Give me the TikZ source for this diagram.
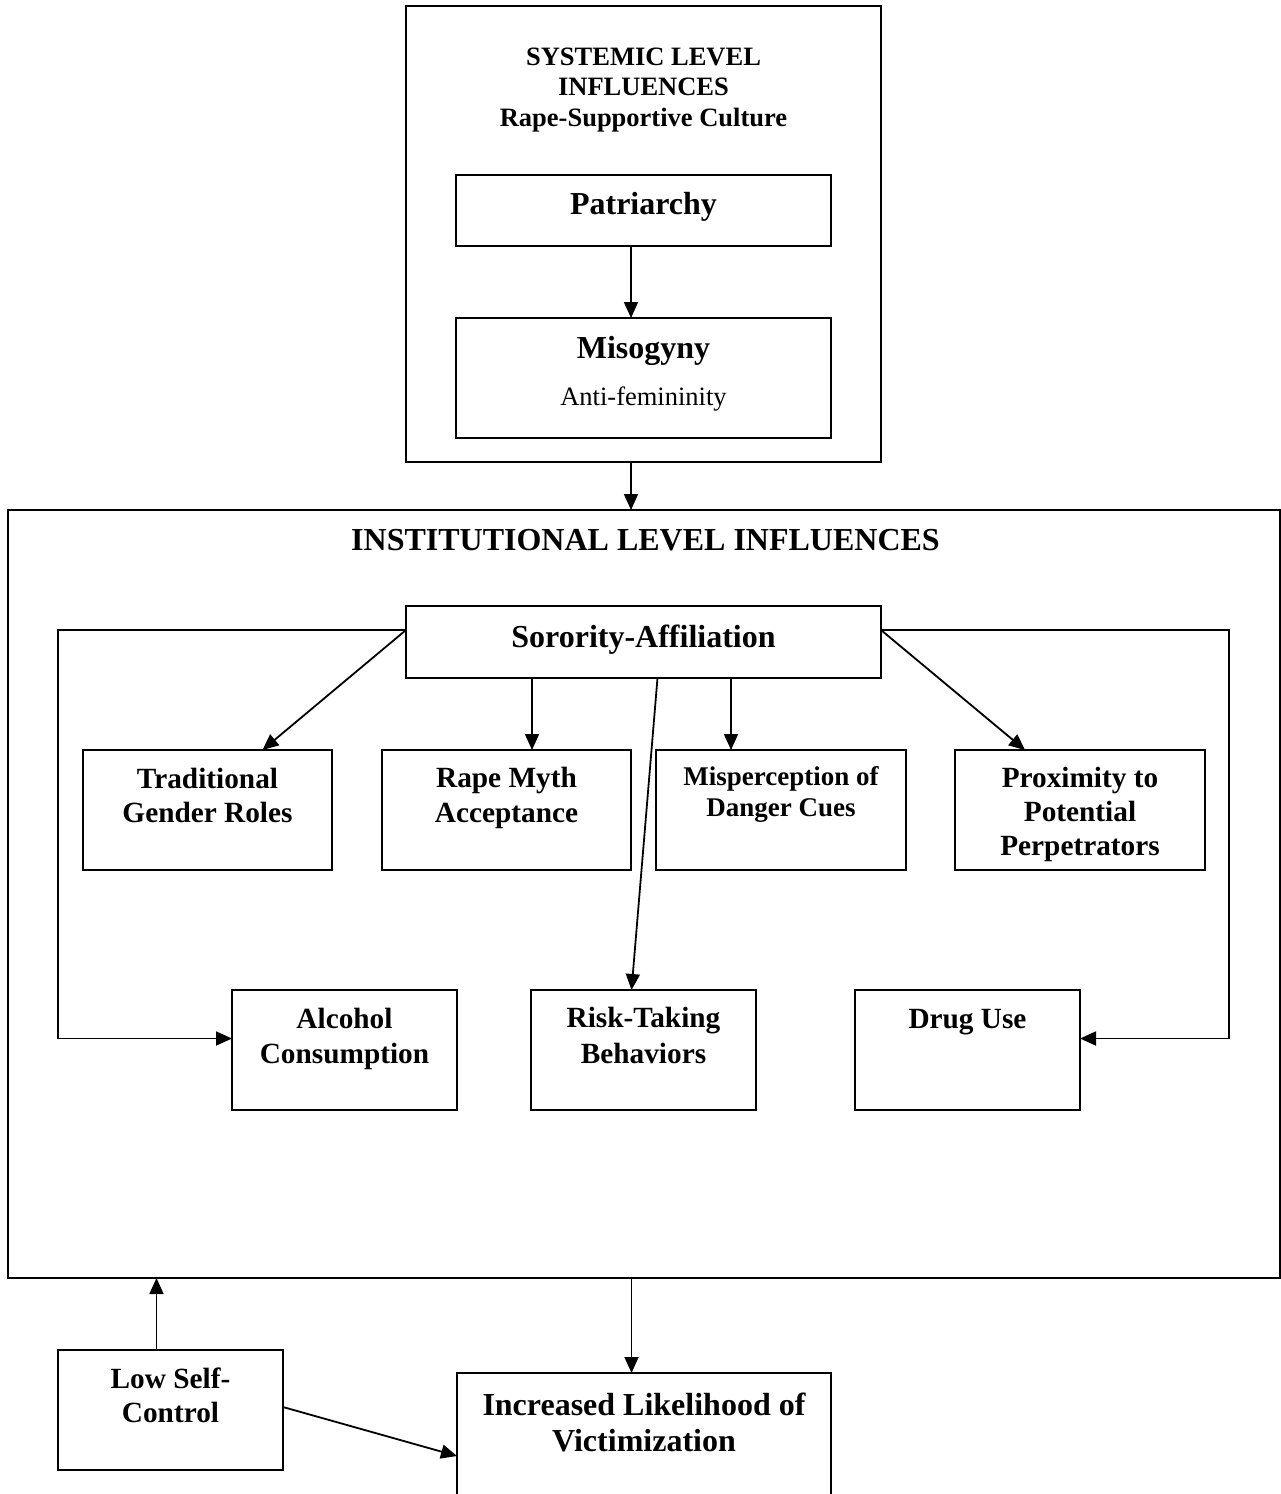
\documentclass[tikz,border=0pt]{standalone}
\usepackage{fontspec}
\setmainfont{Liberation Serif}
\usetikzlibrary{arrows.meta,calc}
\begin{document}
\begin{tikzpicture}[x=1pt,y=-1pt,
  box/.style={draw,line width=2.2pt,inner sep=0pt,outer sep=0pt},
  arr/.style={line width=1.8pt,-{Triangle[length=16pt,width=14pt]}},
  txt/.style={anchor=base,inner sep=0pt},
  big/.style={txt,font=\fontsize{32}{38}\selectfont\bfseries},
  ttl/.style={txt,font=\fontsize{26.5}{31}\selectfont\bfseries},
  sub/.style={txt,font=\fontsize{26.5}{31}\selectfont},
  mid/.style={txt,font=\fontsize{29.3}{35}\selectfont\bfseries},
  sml/.style={txt,font=\fontsize{27}{32}\selectfont\bfseries}]
\fill[white] (0,0) rectangle (1281,1494);
\useasboundingbox (0,0) rectangle (1281,1494);

% systemic level
\node[box,minimum width=475pt,minimum height=456pt] (sys) at (643.5,234) {};
\node[ttl] (sys1) at (sys.center |- 0,65) {SYSTEMIC LEVEL};
\node[ttl] (sys2) at (sys.center |- 0,95) {INFLUENCES};
\node[ttl] (sys3) at (sys.center |- 0,126) {Rape-Supportive Culture};
\node[box,minimum width=375pt,minimum height=71pt] (pat) at (643.5,210.5) {};
\node[big] (patT) at (pat.center |- 0,214) {Patriarchy};
\node[box,minimum width=375pt,minimum height=120pt] (mis) at (643.5,378) {};
\node[big] (misT) at (mis.center |- 0,358) {Misogyny};
\node[sub] (misS) at (mis.center |- 0,405) {Anti-femininity};

% institutional level
\node[box,minimum width=1272pt,minimum height=768pt] (inst) at (644,894) {};
\node[big] (instT) at (645.5,550) {INSTITUTIONAL LEVEL INFLUENCES};
\node[box,minimum width=475pt,minimum height=72pt] (sor) at (643.5,642) {};
\node[big] (sorT) at (sor.center |- 0,647.5) {Sorority-Affiliation};

\node[box,minimum width=249pt,minimum height=120pt] (trad) at (207.5,810) {};
\node[mid] (trad1) at (trad.center |- 0,788) {Traditional};
\node[mid] (trad2) at (trad.center |- 0,822) {Gender Roles};
\node[box,minimum width=249pt,minimum height=120pt] (rape) at (506.5,810) {};
\node[mid] (rape1) at (rape.center |- 0,787) {Rape Myth};
\node[mid] (rape2) at (rape.center |- 0,822) {Acceptance};
\node[box,minimum width=250pt,minimum height=120pt] (dang) at (781,810) {};
\node[sml] (dang1) at (dang.center |- 0,785) {Misperception of};
\node[sml] (dang2) at (dang.center |- 0,816.5) {Danger Cues};
\node[box,minimum width=250pt,minimum height=120pt] (prox) at (1080,810) {};
\node[mid] (prox1) at (prox.center |- 0,787) {Proximity to};
\node[mid] (prox2) at (prox.center |- 0,821.5) {Potential};
\node[mid] (prox3) at (prox.center |- 0,855) {Perpetrators};

\node[box,minimum width=225pt,minimum height=120pt] (alc) at (344.5,1050) {};
\node[mid] (alc1) at (alc.center |- 0,1028) {Alcohol};
\node[mid] (alc2) at (alc.center |- 0,1063) {Consumption};
\node[box,minimum width=225pt,minimum height=120pt] (risk) at (643.5,1050) {};
\node[mid] (risk1) at (risk.center |- 0,1027.5) {Risk-Taking};
\node[mid] (risk2) at (risk.center |- 0,1063) {Behaviors};
\node[box,minimum width=225pt,minimum height=120pt] (drug) at (967.5,1050) {};
\node[mid] (drug1) at (drug.center |- 0,1028) {Drug Use};

% individual level and outcome
\node[box,minimum width=225pt,minimum height=120pt] (low) at (170.5,1410) {};
\node[mid] (low1) at (low.center |- 0,1388) {Low Self-};
\node[mid] (low2) at (low.center |- 0,1422.5) {Control};
\node[box,minimum width=374pt,minimum height=126pt] (inc) at (644,1436) {};
\node[big] (inc1) at (inc.center |- 0,1415) {Increased Likelihood of};
\node[big] (inc2) at (inc.center |- 0,1451.5) {Victimization};

% connectors
\draw[arr] ([xshift=-12.5pt]pat.south) -- ([xshift=-12.5pt]mis.north);
\draw[arr] ([xshift=-12.5pt]sys.south) -- ([xshift=-12.5pt]sys.south |- inst.north);

\coordinate (sorL) at ([yshift=12pt]sor.west);
\coordinate (sorR) at ([yshift=12pt]sor.east);
\draw[arr] (sorL) -- ([xshift=55pt]trad.north);
\draw[arr] (sorR) -- ([xshift=-55pt]prox.north);
\draw[arr] ([xshift=25.5pt]rape.north |- sor.south) -- ([xshift=25.5pt]rape.north);
\draw[arr] ([xshift=-50pt]dang.north |- sor.south) -- ([xshift=-50pt]dang.north);
\draw[arr] ([xshift=14pt]sor.south) -- ([xshift=-12pt]risk.north);
\draw[arr] (sorL) -| ([xshift=-174pt,yshift=11.5pt]alc.west) -- ([yshift=11.5pt]alc.west);
\draw[arr] (sorR) -| ([xshift=149pt,yshift=11.5pt]drug.east) -- ([yshift=11.5pt]drug.east);

\draw[arr] ([xshift=-14pt]low.north) -- ([xshift=-14pt]low.north |- inst.south);
\draw[arr] ([xshift=-12.5pt]inst.south -| inc.north) -- ([xshift=-12.5pt]inc.north);
\draw[arr] ([yshift=3pt]low.east) -- ([yshift=-20pt]inc.west);
\end{tikzpicture}
\end{document}
